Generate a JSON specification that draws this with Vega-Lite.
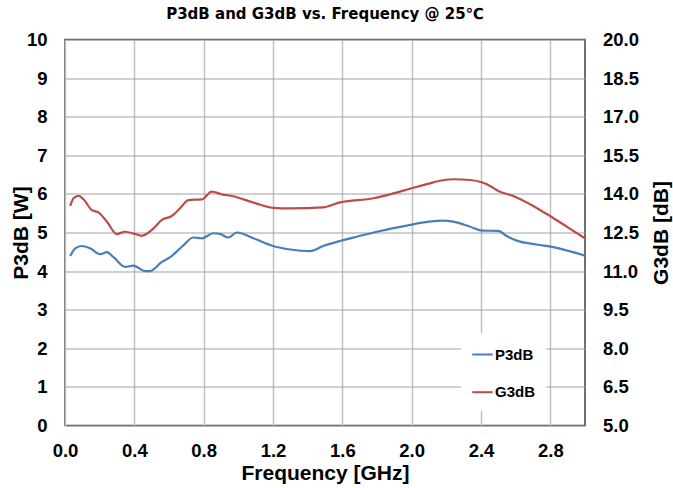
{
  "$schema": "https://vega.github.io/schema/vega-lite/v6.json",
  "width": 520,
  "height": 386,
  "autosize": "none",
  "padding": {"left": 65, "top": 39.5, "right": 88, "bottom": 62.5},
  "background": "white",
  "title": {
    "text": "P3dB and G3dB vs. Frequency @ 25℃",
    "font": "DejaVu Sans",
    "fontSize": 15,
    "fontWeight": "bold",
    "color": "black",
    "anchor": "middle",
    "offset": 9
  },
  "config": {
    "view": {"stroke": "#404040", "strokeWidth": 1.5},
    "axis": {
      "labelFont": "Liberation Sans",
      "labelFontSize": 18.5,
      "labelFontWeight": "bold",
      "labelColor": "black",
      "titleFont": "Liberation Sans",
      "titleFontSize": 21,
      "titleFontWeight": "bold",
      "titleColor": "black",
      "ticks": false,
      "domain": false
    },
    "legend": {
      "orient": "none",
      "legendX": 396,
      "legendY": 293.5,
      "fillColor": "white",
      "padding": 10,
      "symbolType": "stroke",
      "symbolSize": 420,
      "symbolStrokeWidth": 2,
      "labelFont": "Liberation Sans",
      "labelFontSize": 15,
      "labelFontWeight": "bold",
      "labelColor": "black",
      "rowPadding": 17.7,
      "labelOffset": 1
    }
  },
  "datasets": {
    "p3db": [
      {"f": 0.03, "v": 4.39}, {"f": 0.059, "v": 4.59}, {"f": 0.097, "v": 4.65}, {"f": 0.145, "v": 4.59},
      {"f": 0.203, "v": 4.44}, {"f": 0.242, "v": 4.49}, {"f": 0.28, "v": 4.36}, {"f": 0.347, "v": 4.11},
      {"f": 0.395, "v": 4.14}, {"f": 0.463, "v": 4.0}, {"f": 0.491, "v": 4.0}, {"f": 0.559, "v": 4.24},
      {"f": 0.607, "v": 4.36}, {"f": 0.674, "v": 4.63}, {"f": 0.741, "v": 4.87}, {"f": 0.79, "v": 4.85},
      {"f": 0.856, "v": 4.98}, {"f": 0.895, "v": 4.96}, {"f": 0.943, "v": 4.87}, {"f": 0.991, "v": 5.0},
      {"f": 1.097, "v": 4.83}, {"f": 1.2, "v": 4.65}, {"f": 1.3, "v": 4.56}, {"f": 1.414, "v": 4.52},
      {"f": 1.49, "v": 4.65}, {"f": 1.587, "v": 4.78}, {"f": 1.683, "v": 4.89}, {"f": 1.818, "v": 5.04},
      {"f": 1.972, "v": 5.18}, {"f": 2.1, "v": 5.28}, {"f": 2.183, "v": 5.31}, {"f": 2.24, "v": 5.28},
      {"f": 2.337, "v": 5.15}, {"f": 2.404, "v": 5.05}, {"f": 2.5, "v": 5.04}, {"f": 2.548, "v": 4.91},
      {"f": 2.606, "v": 4.79}, {"f": 2.721, "v": 4.69}, {"f": 2.817, "v": 4.62}, {"f": 3.0, "v": 4.4}
    ],
    "g3db": [
      {"f": 0.03, "v": 13.53}, {"f": 0.049, "v": 13.83}, {"f": 0.078, "v": 13.92}, {"f": 0.107, "v": 13.79},
      {"f": 0.155, "v": 13.37}, {"f": 0.193, "v": 13.28}, {"f": 0.242, "v": 12.92}, {"f": 0.299, "v": 12.44},
      {"f": 0.347, "v": 12.53}, {"f": 0.405, "v": 12.44}, {"f": 0.443, "v": 12.37}, {"f": 0.501, "v": 12.6},
      {"f": 0.559, "v": 12.99}, {"f": 0.616, "v": 13.14}, {"f": 0.664, "v": 13.44}, {"f": 0.712, "v": 13.76},
      {"f": 0.79, "v": 13.79}, {"f": 0.847, "v": 14.09}, {"f": 0.905, "v": 13.98}, {"f": 0.963, "v": 13.92},
      {"f": 1.097, "v": 13.64}, {"f": 1.2, "v": 13.46}, {"f": 1.3, "v": 13.44}, {"f": 1.49, "v": 13.48},
      {"f": 1.587, "v": 13.67}, {"f": 1.78, "v": 13.83}, {"f": 1.875, "v": 13.98}, {"f": 2.01, "v": 14.24},
      {"f": 2.1, "v": 14.4}, {"f": 2.144, "v": 14.48}, {"f": 2.24, "v": 14.57}, {"f": 2.337, "v": 14.54},
      {"f": 2.404, "v": 14.45}, {"f": 2.452, "v": 14.31}, {"f": 2.5, "v": 14.11}, {"f": 2.586, "v": 13.92},
      {"f": 2.683, "v": 13.6}, {"f": 2.798, "v": 13.14}, {"f": 2.894, "v": 12.73}, {"f": 3.0, "v": 12.27}
    ]
  },
  "layer": [
    {
      "data": {"name": "p3db"},
      "mark": {"type": "line", "interpolate": "monotone", "strokeWidth": 2.2, "clip": true},
      "encoding": {
        "x": {
          "field": "f", "type": "quantitative",
          "scale": {"domain": [0, 3.0], "nice": false},
          "axis": {
            "title": "Frequency [GHz]",
            "values": [0, 0.4, 0.8, 1.2, 1.6, 2.0, 2.4, 2.8],
            "format": ".1f",
            "labelFlush": false,
            "labelPadding": 16,
            "titlePadding": 2,
            "grid": true,
            "gridColor": "#c0c0c0",
            "gridWidth": 1.5
          }
        },
        "y": {
          "field": "v", "type": "quantitative",
          "scale": {"domain": [0, 10], "nice": false},
          "axis": {
            "title": "P3dB [W]",
            "orient": "left",
            "values": [0, 1, 2, 3, 4, 5, 6, 7, 8, 9, 10],
            "labelFlush": false,
            "labelPadding": 18,
            "titlePadding": -5,
            "grid": true,
            "gridColor": "#a0a0a0",
            "gridWidth": 1
          }
        },
        "color": {
          "datum": "P3dB",
          "type": "nominal",
          "scale": {"domain": ["P3dB", "G3dB"], "range": ["#4a7ebb", "#be4b48"]},
          "legend": {"title": null}
        }
      }
    },
    {
      "data": {"name": "g3db"},
      "mark": {"type": "line", "interpolate": "monotone", "strokeWidth": 2.2, "clip": true},
      "encoding": {
        "x": {"field": "f", "type": "quantitative"},
        "y": {
          "field": "v", "type": "quantitative",
          "scale": {"domain": [5, 20], "nice": false},
          "axis": {
            "title": "G3dB [dB]",
            "orient": "right",
            "values": [5, 6.5, 8, 9.5, 11, 12.5, 14, 15.5, 17, 18.5, 20],
            "format": ".1f",
            "labelFlush": false,
            "labelPadding": 17.5,
            "titleAngle": 270,
            "titleBaseline": "top",
            "titlePadding": 12,
            "grid": false
          }
        },
        "color": {"datum": "G3dB", "type": "nominal"}
      }
    }
  ],
  "resolve": {"scale": {"y": "independent"}}
}
